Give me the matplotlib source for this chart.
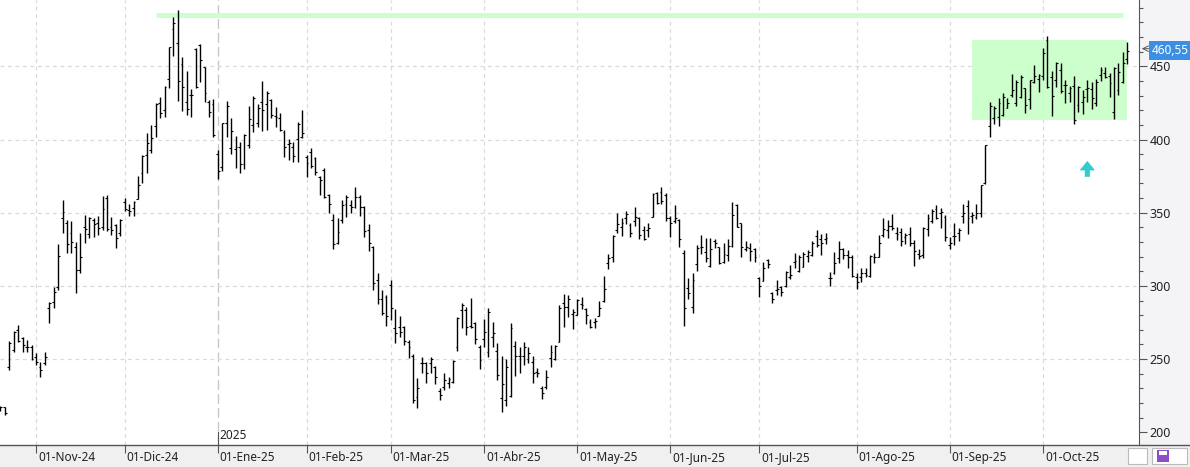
import numpy as np
import pandas as pd
import matplotlib
matplotlib.use('Agg')
import matplotlib.pyplot as plt
from matplotlib.patches import Rectangle
from matplotlib.lines import Line2D
import matplotlib.transforms as mtransforms

# ============================================================
# DATA (daily OHLC, NYSE calendar)
# ============================================================
holidays = ['2024-11-28', '2024-12-25', '2025-01-01', '2025-01-09', '2025-01-20',
            '2025-02-17', '2025-04-18', '2025-05-26', '2025-06-19', '2025-07-04',
            '2025-09-01']

opens = [216.4, 217.0, 244.4, 256.2, 269.9, 264.2, 258.5, 258.5, 251.7, 244.8,
         247.1, 284.7, 289.2, 299.0, 346.2, 342.7, 335.9, 326.8, 310.9, 340.5,
         335.2, 345.0, 343.2, 340.5, 359.8, 340.5, 341.6, 335.9, 357.5, 351.8,
         353.0, 359.6, 377.4, 389.4, 392.8, 409.5, 424.7, 420.2, 441.1, 475.3,
         466.2, 451.6, 425.4, 430.4, 461.6, 464.6, 449.8, 425.8, 424.3, 390.1,
         381.5, 411.1, 394.0, 393.3, 395.1, 383.3, 396.2, 409.9, 411.1, 425.8,
         424.3, 427.0, 416.1, 414.5, 405.4, 396.9, 395.1, 400.1, 401.9, 388.3,
         391.7, 387.1, 374.6, 379.2, 362.1, 345.0, 329.5, 345.0, 356.0, 355.3,
         354.1, 361.0, 354.1, 338.2, 326.8, 304.0, 290.8, 292.6, 300.6, 271.0,
         272.2, 272.2, 261.9, 252.1, 224.3, 247.1, 247.6, 247.1, 244.8, 228.4,
         231.2, 233.4, 234.6, 258.5, 283.5, 283.5, 272.6, 274.4, 258.5, 263.5,
         255.1, 264.9, 255.8, 223.2, 222.1, 224.8, 259.0, 252.1, 252.1, 249.8,
         248.2, 241.4, 230.0, 230.7, 250.5, 249.8, 261.9, 288.6, 285.8, 280.8,
         280.1, 287.6, 284.0, 275.6, 275.6, 279.4, 289.9, 315.4, 319.5, 338.2,
         340.5, 346.2, 341.6, 344.6, 346.2, 338.2, 338.2, 347.3, 363.2, 364.4,
         362.1, 346.2, 344.6, 345.0, 322.2, 298.3, 285.8, 315.0, 326.3, 323.4,
         313.6, 330.9, 326.3, 316.5, 321.1, 327.3, 355.3, 342.7, 325.0, 325.7,
         325.0, 305.2, 303.6, 317.7, 294.9, 297.2, 299.0, 299.9, 306.3, 316.5,
         310.4, 313.1, 320.4, 321.1, 334.1, 331.8, 331.8, 305.2, 308.6, 318.8,
         325.0, 321.1, 320.0, 305.8, 306.3, 309.1, 306.8, 320.0, 320.0, 334.8,
         338.2, 340.9, 335.9, 337.0, 333.2, 335.4, 329.5, 321.8, 321.1, 338.6,
         344.6, 352.3, 349.6, 347.3, 328.0, 334.1, 335.9, 347.7, 354.6, 347.7,
         347.3, 349.6, 370.5, 409.2, 414.5, 415.2, 416.7, 421.3, 430.4, 425.2,
         429.3, 435.0, 427.4, 439.5, 441.1, 443.4, 468.0, 442.9, 440.6, 447.5,
         437.2, 432.0, 436.6, 423.6, 425.8, 434.3, 434.3, 425.2, 444.1, 445.2,
         443.4, 419.0, 433.8, 439.5, 454.8]

highs = [218.0, 217.5, 262.6, 269.2, 273.3, 264.9, 263.0, 259.6, 254.4, 248.2,
         255.1, 289.2, 299.5, 328.6, 358.7, 345.0, 344.3, 329.8, 335.9, 348.4,
         347.3, 346.2, 347.7, 361.4, 362.1, 346.8, 342.1, 345.5, 359.8, 355.9,
         358.0, 375.1, 389.4, 404.2, 409.9, 424.7, 428.8, 436.6, 463.0, 483.9,
         488.5, 456.1, 446.8, 434.3, 462.3, 465.2, 449.8, 427.0, 427.4, 392.8,
         411.5, 426.5, 414.5, 402.4, 398.5, 403.5, 422.9, 429.7, 424.3, 440.0,
         433.1, 427.7, 422.4, 418.3, 406.5, 400.1, 398.5, 412.2, 420.2, 389.4,
         394.0, 388.3, 375.1, 380.3, 362.8, 349.1, 346.2, 358.7, 362.1, 358.7,
         367.3, 362.1, 354.6, 342.3, 327.3, 308.6, 297.2, 293.6, 304.0, 284.0,
         279.4, 272.6, 263.0, 253.5, 236.9, 251.2, 248.2, 251.2, 245.3, 230.0,
         240.7, 237.5, 249.4, 278.5, 288.1, 285.8, 291.5, 275.6, 259.6, 277.2,
         284.7, 275.6, 260.8, 252.1, 249.8, 274.9, 262.6, 258.0, 261.9, 258.5,
         252.1, 243.6, 231.6, 242.5, 259.6, 259.6, 287.0, 294.5, 293.6, 284.0,
         290.8, 292.6, 284.7, 277.2, 277.8, 289.7, 306.8, 321.8, 334.8, 349.6,
         346.2, 351.4, 343.2, 354.1, 346.8, 340.9, 342.7, 363.2, 364.4, 367.3,
         363.7, 347.7, 355.3, 345.5, 324.5, 305.2, 309.1, 328.0, 334.8, 332.5,
         332.5, 331.8, 326.8, 329.1, 331.8, 357.5, 355.9, 343.2, 330.9, 329.1,
         325.7, 306.3, 316.5, 318.1, 296.1, 304.0, 299.9, 310.4, 314.3, 322.2,
         321.1, 323.4, 324.5, 330.9, 338.2, 335.4, 335.9, 309.7, 323.4, 330.9,
         325.7, 324.5, 321.1, 309.1, 312.0, 312.0, 321.1, 322.2, 334.8, 346.2,
         345.0, 349.1, 340.0, 339.3, 335.9, 340.0, 331.4, 325.0, 340.0, 349.1,
         352.3, 355.3, 353.0, 348.4, 333.2, 343.2, 339.3, 356.0, 358.7, 350.7,
         356.0, 368.9, 396.2, 425.8, 422.9, 428.1, 432.0, 428.1, 444.8, 440.6,
         444.1, 435.0, 440.6, 450.9, 444.8, 462.3, 470.7, 447.0, 453.2, 452.0,
         440.6, 436.6, 443.4, 436.6, 433.8, 440.6, 439.5, 441.1, 449.8, 449.8,
         445.7, 449.8, 452.0, 460.0, 466.8]

lows = [214.8, 211.8, 242.5, 255.1, 261.9, 255.1, 255.1, 249.4, 246.0, 238.0,
        246.0, 274.9, 284.7, 297.2, 335.9, 322.7, 322.2, 294.9, 308.6, 329.5,
        332.5, 333.6, 334.8, 338.2, 337.7, 334.8, 326.1, 334.1, 351.2, 348.0,
        348.0, 359.1, 370.5, 377.4, 390.6, 401.9, 414.5, 415.2, 435.4, 457.0,
        426.5, 419.7, 416.7, 415.2, 435.0, 439.5, 425.8, 415.2, 401.9, 372.8,
        378.7, 401.5, 389.9, 380.3, 376.9, 379.6, 394.0, 405.4, 408.8, 406.0,
        406.5, 414.5, 408.3, 405.8, 388.3, 386.0, 384.4, 384.4, 400.8, 374.2,
        380.8, 375.8, 362.1, 359.8, 350.0, 325.0, 328.6, 342.7, 347.3, 349.6,
        353.0, 347.7, 333.6, 324.1, 297.2, 287.4, 280.1, 272.6, 276.7, 261.2,
        265.3, 259.6, 250.5, 219.8, 216.4, 240.7, 233.4, 240.3, 233.0, 222.1,
        228.9, 230.0, 233.9, 255.8, 271.0, 266.5, 271.0, 260.3, 243.0, 258.5,
        251.2, 258.5, 235.7, 213.6, 218.0, 223.9, 238.5, 240.7, 246.0, 247.1,
        233.4, 237.5, 222.5, 229.3, 244.4, 249.4, 261.9, 272.2, 279.0, 270.3,
        280.1, 284.0, 274.0, 271.0, 271.0, 279.4, 289.2, 311.3, 316.5, 336.4,
        334.1, 342.3, 333.2, 340.9, 331.8, 331.4, 333.2, 346.8, 355.9, 355.9,
        344.6, 333.2, 342.7, 326.8, 272.6, 290.8, 281.3, 310.4, 321.8, 316.5,
        313.1, 325.7, 315.0, 315.4, 317.2, 326.8, 340.0, 320.0, 324.1, 317.2,
        316.5, 292.6, 303.6, 312.0, 288.6, 293.6, 293.1, 299.5, 304.5, 312.0,
        309.7, 312.7, 316.5, 320.4, 326.3, 321.1, 328.6, 299.9, 308.1, 315.4,
        318.1, 312.0, 305.8, 297.7, 302.9, 305.8, 306.3, 315.9, 319.5, 333.6,
        332.5, 338.2, 331.4, 327.3, 328.6, 327.3, 313.6, 318.1, 318.8, 334.1,
        343.2, 345.5, 339.3, 330.9, 325.0, 328.0, 330.9, 343.2, 335.4, 343.2,
        345.5, 347.3, 369.6, 401.9, 410.6, 409.2, 416.1, 421.3, 428.8, 422.9,
        428.1, 418.3, 420.6, 438.8, 432.7, 440.6, 435.0, 416.1, 435.6, 432.0,
        424.7, 425.8, 410.6, 419.0, 417.4, 425.8, 420.6, 422.9, 440.2, 441.8,
        428.8, 413.8, 430.4, 438.4, 451.6]

closes = [217.0, 213.4, 260.8, 268.7, 262.6, 259.6, 258.5, 249.8, 248.2, 242.5,
          251.2, 288.6, 296.1, 320.7, 350.3, 328.4, 329.8, 310.9, 320.0, 338.6,
          346.2, 342.3, 339.3, 352.3, 338.6, 338.2, 332.9, 345.0, 352.3, 351.2,
          357.5, 368.9, 389.0, 397.4, 400.8, 424.3, 417.9, 435.6, 463.0, 479.4,
          440.0, 435.6, 420.6, 430.4, 435.6, 454.3, 431.5, 419.0, 403.1, 378.7,
          411.1, 422.9, 406.0, 395.1, 383.3, 403.1, 413.8, 428.1, 421.3, 420.2,
          431.5, 416.7, 415.2, 406.5, 395.1, 397.4, 388.7, 410.6, 404.2, 383.7,
          382.1, 377.6, 372.3, 361.0, 356.0, 328.6, 336.6, 355.3, 361.0, 354.1,
          361.0, 354.1, 337.7, 329.5, 302.2, 290.8, 281.3, 279.4, 284.7, 267.6,
          268.7, 262.6, 258.5, 222.1, 230.0, 247.6, 240.3, 249.8, 238.0, 225.5,
          235.7, 236.2, 248.7, 277.8, 287.0, 271.7, 272.2, 263.5, 249.4, 268.7,
          282.4, 267.6, 239.1, 233.0, 244.4, 271.0, 252.1, 252.1, 258.5, 254.4,
          240.7, 240.7, 227.1, 237.5, 255.1, 259.0, 284.7, 285.8, 290.8, 282.4,
          290.4, 287.0, 280.1, 272.2, 276.3, 284.7, 297.7, 318.8, 334.1, 342.3,
          342.7, 349.1, 335.9, 347.3, 334.8, 331.8, 339.3, 362.8, 356.9, 358.2,
          346.2, 343.2, 346.2, 331.8, 284.7, 294.9, 304.1, 325.7, 326.8, 318.8,
          325.0, 329.1, 315.9, 321.8, 327.3, 348.4, 340.0, 326.8, 326.8, 324.1,
          319.5, 299.9, 312.0, 315.0, 290.8, 297.7, 296.1, 309.7, 307.4, 317.2,
          319.5, 321.8, 323.4, 329.1, 328.0, 329.1, 332.5, 305.2, 315.4, 325.0,
          321.1, 319.5, 306.8, 302.9, 308.6, 307.4, 320.4, 320.0, 329.1, 338.6,
          340.9, 339.3, 335.4, 330.9, 334.8, 329.5, 324.1, 320.4, 339.3, 346.2,
          351.4, 346.2, 350.7, 333.2, 329.5, 334.1, 338.2, 350.0, 346.2, 348.4,
          350.0, 368.7, 396.0, 422.9, 421.3, 425.2, 428.8, 425.2, 433.8, 439.5,
          442.9, 423.6, 440.6, 443.4, 444.1, 458.9, 435.6, 429.7, 452.5, 433.4,
          437.2, 435.0, 413.3, 435.6, 428.8, 435.0, 428.1, 439.5, 447.5, 442.5,
          438.4, 448.6, 446.3, 452.5, 460.55]

# drawn annotations (level line, range box, signal arrow)
resistance = 485.0
resistance_span = ('2024-12-11', '2025-10-27')
range_low, range_high = 413.6, 468.1
range_span = ('2025-09-09', '2025-10-30')
signal_date, signal_price = '2025-10-15', 374.5

meses = {1: 'Ene', 2: 'Feb', 3: 'Mar', 4: 'Abr', 5: 'May', 6: 'Jun',
         7: 'Jul', 8: 'Ago', 9: 'Sep', 10: 'Oct', 11: 'Nov', 12: 'Dic'}

dates = pd.bdate_range('2024-10-22', periods=len(closes), freq='C', holidays=holidays)
x = np.arange(len(closes))


def date_pos(d):
    # fractional bar position of a calendar date
    return np.interp(pd.Timestamp(d).value, dates.asi8, x)


# ============================================================
# FIGURE
# ============================================================
W, H = 1190, 467
fig = plt.figure(figsize=(W / 100, H / 100), dpi=100, facecolor='#f0f0f0')
fig.patches.append(Rectangle((1139 / W, 22 / H), 51 / W, 445 / H, transform=fig.transFigure,
                             fc='#f4f4f6', ec='none', zorder=-5))
ax = fig.add_axes([0, 22 / H, 1139 / W, 445 / H])
ax.set_facecolor('white')

FONT = 'Noto Sans'
ax.set_xlim(-0.11, 256.65)
ax.set_ylim(191.3, 495.3)

# grid
month_idx = [i for i in range(1, len(dates)) if dates[i].month != dates[i - 1].month]
year_idx = [i for i in month_idx if dates[i].month == 1]
for i in month_idx:
    if i in year_idx:
        ax.axvline(i, color='#c8c8c8', lw=1.0, ls=(0, (7, 3)), zorder=1)
    else:
        ax.axvline(i, color='#dadada', lw=0.9, ls=(0, (3, 3)), zorder=1)
for p in [250, 300, 350, 400, 450]:
    ax.axhline(p, color='#dadada', lw=0.9, ls=(0, (3, 3)), zorder=1)

# annotations
ax.hlines(resistance, date_pos(resistance_span[0]), date_pos(resistance_span[1]),
          color='#ccffcc', lw=3.6, capstyle='butt', zorder=2)
x0, x1 = date_pos(range_span[0]), date_pos(range_span[1])
ax.add_patch(Rectangle((x0, range_low), x1 - x0, range_high - range_low,
                       fc='#ccffcc', ec='none', zorder=2))
ax.arrow(date_pos(signal_date), signal_price, 0, 10.9, width=1.15, head_width=3.5,
         head_length=6.5, length_includes_head=True, color='#33cccc', lw=0, zorder=3)

# OHLC bars
ax.vlines(x, lows, highs, color='black', lw=1.0, zorder=4)
ax.hlines(opens, x - 0.42, x, color='black', lw=0.8, zorder=4)
ax.hlines(closes, x, x + 0.42, color='black', lw=0.8, zorder=4)

# axes styling
for s in ['top', 'left', 'bottom']:
    ax.spines[s].set_visible(False)
ax.spines['right'].set_color('#555555')
ax.yaxis.tick_right()
ax.set_yticks([200, 250, 300, 350, 400, 450])
ax.set_yticks(np.arange(200, 491, 10), minor=True)
ax.tick_params(axis='y', which='major', length=5.8, width=0.8, color='#555555', pad=2,
               labelsize=9, labelcolor='#222222')
ax.tick_params(axis='y', which='minor', length=3.0, width=0.8, color='#555555')
for lab in ax.get_yticklabels():
    lab.set_fontfamily(FONT)

ax.set_xticks(month_idx)
ax.set_xticklabels([f'01-{meses[dates[i].month]}-{dates[i].strftime("%y")}' for i in month_idx],
                   ha='left', fontsize=8.5, fontfamily=FONT, color='#222222')
ax.tick_params(axis='x', length=5.5, width=0.8, color='#555555', pad=-1.5)
offset = mtransforms.ScaledTranslation(2 / 100, 0, fig.dpi_scale_trans)
for lab in ax.get_xticklabels():
    lab.set_transform(lab.get_transform() + offset)

# year marker
for i in year_idx:
    ax.plot([i, i], [191.3, 200.3], color='#555555', lw=0.8, zorder=5)
    ax.text(i + 0.3, 193.5, str(dates[i].year), fontsize=8.5, fontfamily=FONT,
            color='#222222', ha='left', va='bottom')

# last price tag
last = closes[-1]
ax.annotate(f'{last:.2f}'.replace('.', ','), xy=(1, last), xycoords=('axes fraction', 'data'),
            xytext=(13, 0), textcoords='offset pixels', ha='left', va='center',
            fontsize=8.5, fontfamily=FONT, color='white', annotation_clip=False, zorder=10,
            bbox=dict(boxstyle='square,pad=0.25', fc='#3c8fe3', ec='none'))
ax.annotate('', xy=(1, last + 1.5), xycoords=('axes fraction', 'data'),
            xytext=(10, 0), textcoords='offset pixels', annotation_clip=False,
            arrowprops=dict(arrowstyle='->', color='#555555', lw=0.7, shrinkA=0, shrinkB=2))

# bottom axis line across the full width
fig.lines.append(Line2D([0, 1], [22 / H, 22 / H], transform=fig.transFigure,
                        color='#555555', lw=1.0))

# bottom-right toolbar boxes
def px_rect(x, y, w, h, **kw):
    fig.patches.append(Rectangle((x / W, 1 - (y + h) / H), w / W, h / H,
                                 transform=fig.transFigure, **kw))

px_rect(1128, 448, 19, 16, fc='white', ec='#bbbbbb', lw=0.8)
px_rect(1152, 448, 35, 16, fc='white', ec='#bbbbbb', lw=0.8)
px_rect(1157, 450, 12, 12, fc='#8a4fc8', ec='none')
px_rect(1159, 451, 8, 4, fc='white', ec='none')

fig.savefig('out.png', dpi=100, facecolor=fig.get_facecolor())
